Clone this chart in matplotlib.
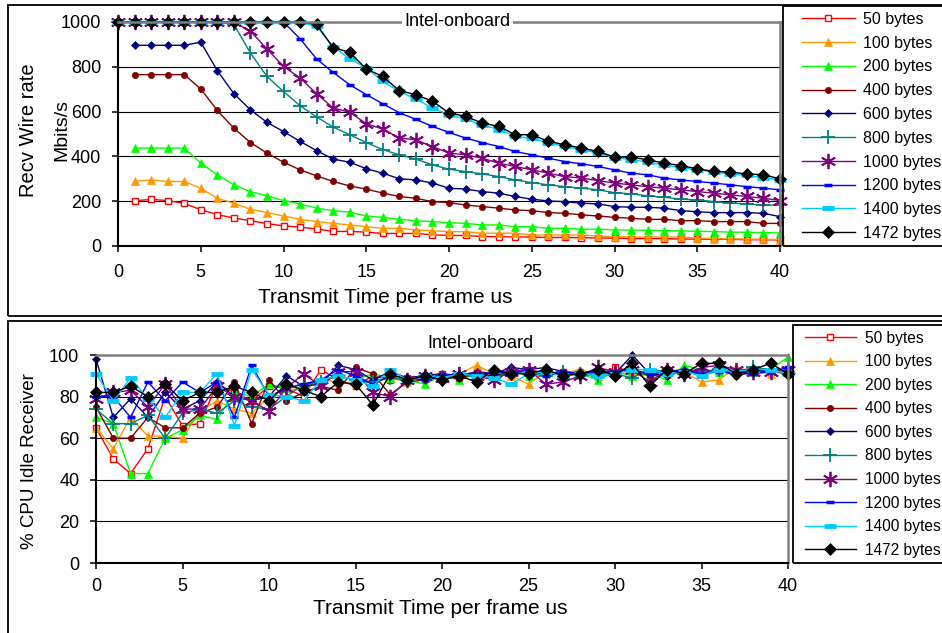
import matplotlib
matplotlib.use('Agg')
import matplotlib.pyplot as plt
from matplotlib.patches import Rectangle
from matplotlib.lines import Line2D

plt.rcParams['font.family'] = ['Liberation Sans', 'DejaVu Sans']

# ---------------- data ----------------
x_time = list(range(41))          # transmit time per frame, us (0..40)
x_ticks = [0, 5, 10, 15, 20, 25, 30, 35, 40]
top_yticks = [0, 200, 400, 600, 800, 1000]
bot_yticks = [0, 20, 40, 60, 80, 100]

series_labels = ['50 bytes', '100 bytes', '200 bytes', '400 bytes', '600 bytes',
                 '800 bytes', '1000 bytes', '1200 bytes', '1400 bytes', '1472 bytes']

# Recv wire rate (Mbit/s); small frames start at t=1, large frames at t=0
top_start = [1, 1, 1, 1, 1, 0, 0, 0, 0, 0]
top_50 = [202, 208, 203, 190, 162, 140, 125, 113, 100, 90, 84, 76, 65, 65, 62, 56, 56, 56, 50, 47,
          47, 42, 42, 40, 40, 38, 38, 37, 36, 35, 33, 33, 33, 31, 31, 30, 30, 28, 28, 27]
top_100 = [288, 295, 288, 288, 258, 213, 191, 164, 149, 134, 119, 109, 101, 94, 86, 79, 79, 72, 68, 64,
           64, 57, 57, 57, 49, 49, 49, 49, 45, 42, 40, 40, 40, 40, 35, 33, 32, 31, 30, 29]
top_200 = [437, 437, 437, 437, 370, 318, 273, 243, 224, 203, 188, 169, 158, 151, 134, 128, 119, 113, 109, 104,
           101, 94, 94, 86, 86, 79, 79, 75, 75, 72, 71, 70, 69, 67, 66, 64, 62, 61, 60, 58]
top_400 = [765, 765, 765, 765, 701, 605, 526, 462, 415, 374, 340, 313, 288, 268, 254, 236, 221, 213, 198, 194,
           183, 176, 169, 161, 158, 149, 146, 139, 134, 128, 124, 119, 119, 113, 113, 109, 109, 109, 101, 101]
top_600 = [896, 896, 896, 896, 910, 783, 680, 608, 552, 511, 467, 426, 388, 374, 345, 325, 300, 295, 281, 258,
           254, 243, 236, 221, 209, 201, 198, 191, 188, 176, 173, 173, 169, 158, 153, 149, 149, 149, 146, 131]
top_800 = [1000, 1000, 1000, 1000, 1000, 1000, 1000, 989, 862, 757, 690, 626, 576, 531, 497, 462, 430, 407, 388,
           362, 343, 332, 322, 310, 295, 283, 273, 265, 258, 251, 238, 233, 224, 218, 209, 206, 198, 191, 188, 183, 183]
top_1000 = [1000, 1000, 1000, 1000, 1000, 1000, 1000, 1000, 959, 880, 802, 750, 680, 616, 597, 546, 522, 482, 474,
            444, 415, 407, 392, 370, 355, 340, 325, 310, 303, 292, 281, 273, 265, 258, 251, 243, 236, 228, 221, 213, 203]
top_1200 = [1000, 1000, 1000, 1000, 1000, 1000, 1000, 1000, 1000, 1000, 1000, 925, 835, 775, 720, 676, 635, 595,
            565, 534, 507, 482, 462, 444, 422, 407, 392, 377, 367, 355, 340, 325, 318, 303, 295, 288, 281, 273, 265, 258, 251]
top_1400 = [1000, 1000, 1000, 1000, 1000, 1000, 1000, 1000, 1000, 1000, 1000, 1000, 980, 890, 835, 795, 735, 690,
            656, 616, 586, 566, 540, 520, 490, 480, 460, 445, 430, 415, 395, 385, 375, 362, 350, 340, 330, 322, 315, 305, 295]
top_1472 = [1000, 1000, 1000, 1000, 1000, 1000, 1000, 1000, 1000, 1000, 1000, 1000, 990, 885, 865, 790, 757, 693,
            676, 646, 594, 579, 549, 534, 497, 497, 467, 452, 437, 422, 397, 397, 385, 370, 359, 345, 333, 330, 322, 318, 300]

# % CPU idle on the receiver (t = 0..40)
cpu_50 = [65, 50, 43, 55, 80, 66, 67, 86, 82, 78, 85, 84, 80, 93, 88, 85, 90, 88, 89, 90, 91,
          89, 92, 90, 91, 93, 91, 92, 92, 90, 94, 92, 90, 93, 92, 91, 92, 91, 93, 92, 91]
cpu_100 = [65, 55, 70, 61, 61, 60, 73, 78, 74, 72, 80, 84, 83, 88, 87, 86, 88, 89, 87, 90, 89,
           91, 95, 91, 90, 86, 92, 91, 93, 90, 93, 91, 90, 91, 92, 87, 88, 94, 92, 91, 93]
cpu_200 = [70, 67, 43, 43, 60, 64, 71, 69, 82, 80, 86, 84, 86, 88, 90, 88, 91, 89, 88, 86, 90,
           88, 91, 90, 93, 90, 92, 90, 91, 88, 92, 90, 91, 88, 95, 93, 92, 93, 92, 93, 99]
cpu_400 = [75, 60, 60, 70, 65, 65, 72, 75, 87, 67, 88, 78, 82, 85, 83, 94, 91, 81, 87, 88, 90,
           89, 91, 90, 92, 93, 91, 92, 90, 91, 92, 93, 90, 91, 92, 91, 93, 90, 92, 93, 92]
cpu_600 = [98, 70, 79, 70, 82, 74, 78, 87, 80, 78, 80, 90, 85, 86, 95, 93, 88, 92, 89, 90, 91,
           90, 92, 91, 94, 93, 94, 92, 91, 93, 91, 100, 91, 90, 93, 92, 93, 91, 92, 93, 91]
cpu_800 = [74, 67, 67, 71, 60, 72, 74, 72, 78, 75, 74, 80, 86, 87, 90, 88, 87, 89, 88, 90, 89,
           91, 90, 89, 92, 91, 90, 92, 91, 90, 91, 89, 93, 92, 91, 92, 93, 92, 94, 93, 92]
cpu_1000 = [79, 82, 83, 75, 86, 74, 74, 85, 80, 78, 73, 84, 91, 85, 92, 92, 82, 80, 88, 90, 89,
            91, 90, 88, 92, 93, 86, 87, 90, 94, 92, 93, 87, 93, 91, 94, 95, 93, 92, 92, 93]
cpu_1200 = [80, 80, 70, 87, 78, 87, 82, 87, 70, 95, 80, 84, 86, 88, 93, 90, 86, 90, 89, 88, 90,
            91, 90, 92, 91, 93, 90, 92, 91, 92, 92, 93, 91, 92, 93, 91, 92, 91, 91, 92, 94]
cpu_1400 = [91, 78, 89, 79, 70, 82, 82, 91, 66, 93, 81, 80, 78, 88, 90, 88, 85, 93, 88, 90, 89,
            91, 90, 89, 86, 91, 92, 90, 91, 90, 91, 93, 93, 91, 92, 90, 93, 92, 93, 93, 91]
cpu_1472 = [82, 82, 85, 80, 86, 78, 82, 82, 85, 82, 78, 86, 83, 80, 87, 86, 76, 91, 88, 90, 88,
            90, 87, 93, 91, 91, 93, 90, 91, 93, 90, 96, 85, 93, 91, 96, 96, 91, 93, 96, 91]

top_series = [top_50, top_100, top_200, top_400, top_600, top_800, top_1000, top_1200, top_1400, top_1472]
cpu_series = [cpu_50, cpu_100, cpu_200, cpu_400, cpu_600, cpu_800, cpu_1000, cpu_1200, cpu_1400, cpu_1472]

# ---------------- styles ----------------
styles = [
    dict(color='#FF0000', marker='s', ms=4.5, mfc='white', mec='#FF0000', mew=1.0),
    dict(color='#FF9900', marker='^', ms=6, mfc='#FF9900', mec='#FF9900', mew=0.5),
    dict(color='#00FF00', marker='^', ms=6, mfc='#00FF00', mec='#00FF00', mew=0.5),
    dict(color='#800000', marker='o', ms=4.5, mfc='#800000', mec='#800000', mew=0.5),
    dict(color='#000080', marker='D', ms=4, mfc='#000080', mec='#000080', mew=0.5),
    dict(color='#008080', marker='+', ms=10, mfc='#008080', mec='#008080', mew=1.3),
    dict(color='#800080', marker=(6, 2, 0), ms=11, mfc='#800080', mec='#800080', mew=1.3),
    dict(color='#0000FF', marker='_', ms=6, mfc='#0000FF', mec='#0000FF', mew=2.5),
    dict(color='#00CCFF', marker='_', ms=9, mfc='#00CCFF', mec='#00CCFF', mew=3.5),
    dict(color='#000000', marker='D', ms=6.5, mfc='#000000', mec='#000000', mew=0.5),
]

W, H = 942, 633
fig = plt.figure(figsize=(W / 100, H / 100), dpi=100)


def fx(px):
    return px / W


def fy(py):
    return 1 - py / H


def add_axes(left, right, top, bottom):
    return fig.add_axes([fx(left), fy(bottom), fx(right) - fx(left), (bottom - top) / H])


def box(left, top, right, bottom, lw=1.3):
    fig.patches.append(Rectangle((fx(left), fy(bottom)), fx(right) - fx(left), (bottom - top) / H,
                                 transform=fig.transFigure, fill=False, edgecolor='black',
                                 linewidth=lw, zorder=5))


# outer frames
box(8, 5, 945, 316)
box(8, 321, 945, 640)


def style_axes(ax, ymax, yticks, ypad, xpad):
    ax.set_xlim(0, 40)
    ax.set_ylim(0, ymax)
    ax.set_xticks(x_ticks)
    ax.set_yticks(yticks)
    ax.tick_params(axis='both', direction='out', length=4, width=1.1, labelsize=13, colors='black')
    ax.tick_params(axis='x', pad=xpad)
    ax.tick_params(axis='y', pad=ypad)
    ax.grid(axis='y', color='black', linewidth=0.8)
    ax.set_axisbelow(True)
    for s in ['left', 'bottom']:
        ax.spines[s].set_color('black')
        ax.spines[s].set_linewidth(1.5)
    for s in ['top', 'right']:
        ax.spines[s].set_color('#808080')
        ax.spines[s].set_linewidth(1.8)


# ---------------- top chart ----------------
ax1 = add_axes(118, 780, 22, 246)
for vals, st, start, lab in zip(top_series, styles, top_start, series_labels):
    ax1.plot(x_time[start:], vals, linewidth=1.0, label=lab, clip_on=False, **st)
style_axes(ax1, 1000, top_yticks, 8, 9)
ax1.text(20.5, 1000, 'Intel-onboard', ha='center', va='center', fontsize=13,
         bbox=dict(facecolor='white', edgecolor='none', pad=1.5), zorder=20)
fig.text(fx(385), fy(297), 'Transmit Time per frame us', ha='center', va='center', fontsize=15)
fig.text(fx(29), fy(130), 'Recv Wire rate', ha='center', va='center', rotation=90, fontsize=14.5)
fig.text(fx(62), fy(130), 'Mbits/s', ha='center', va='center', rotation=90, fontsize=14)

# ---------------- bottom chart ----------------
ax2 = add_axes(96, 788, 355, 563)
for vals, st, lab in zip(cpu_series, styles, series_labels):
    ax2.plot(x_time, vals, linewidth=1.0, label=lab, clip_on=False, **st)
style_axes(ax2, 100, bot_yticks, 8, 7)
fig.text(fx(480), fy(343), 'Intel-onboard', ha='center', va='center', fontsize=13)
fig.text(fx(440), fy(608), 'Transmit Time per frame us', ha='center', va='center', fontsize=15)
fig.text(fx(30), fy(461), '% CPU Idle Receiver', ha='center', va='center', rotation=90, fontsize=13.5)

# ---------------- legends ----------------
handles = [Line2D([], [], linewidth=1.0, **st) for st in styles]
legend_specs = [
    # frame box (l, t, r, b), anchor (x, y), fontsize, labelspacing
    ((783, 6, 945, 246), (797, 7), 11.5, 0.55),
    ((793, 325, 945, 563), (800, 326), 11.2, 0.55),
]
for frame, anchor, fsz, lsp in legend_specs:
    box(*frame)
    leg = fig.legend(handles, series_labels, loc='upper left', bbox_to_anchor=(fx(anchor[0]), fy(anchor[1])),
                     frameon=False, borderaxespad=0, handlelength=3.3, handletextpad=0.55,
                     labelspacing=lsp, fontsize=fsz, borderpad=0.3)

fig.savefig('out.png', dpi=100)
